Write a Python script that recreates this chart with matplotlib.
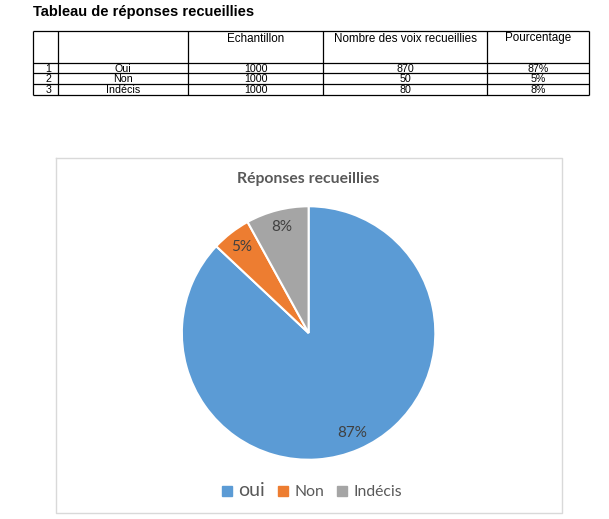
import matplotlib
matplotlib.use("Agg")
import matplotlib.pyplot as plt
from matplotlib.lines import Line2D

# ---- data ----
table_title = "Tableau de réponses recueillies"
headers = ["", "", "Echantillon", "Nombre des voix recueillies", "Pourcentage"]
row_ids = ["1", "2", "3"]
row_names = ["Oui", "Non", "Indécis"]
sample_sizes = [1000, 1000, 1000]
votes = [870, 50, 80]
percent_labels = ["87%", "5%", "8%"]

chart_title = "Réponses recueillies"
legend_labels = ["oui", "Non", "Indécis"]
pie_values = [87, 5, 8]
colors = ["#5B9BD5", "#ED7D31", "#A5A5A5"]

W, H = 609, 519
fig = plt.figure(figsize=(W / 100, H / 100), dpi=100)
fig.patch.set_facecolor("white")

# overlay axes in pixel coordinates for table and frame
ov = fig.add_axes([0, 0, 1, 1])
ov.set_xlim(0, W)
ov.set_ylim(H, 0)
ov.axis("off")

tfont = ["Liberation Sans", "DejaVu Sans"]
ov.text(33, 12, table_title, fontsize=10.5, fontweight="bold", family=tfont,
        ha="left", va="center", color="black")

col_x = [32.5, 58, 188, 323, 487, 589]
row_y = [31, 62.5, 73.2, 83.9, 94.6]
lw = 0.9
for x in col_x:
    ov.plot([x, x], [row_y[0], row_y[-1]], color="black", lw=lw, solid_capstyle="butt")
for y in row_y:
    ov.plot([col_x[0], col_x[-1]], [y, y], color="black", lw=lw, solid_capstyle="butt")

fs = 8.4
for i, h in enumerate(headers):
    if h:
        ov.text((col_x[i] + col_x[i + 1]) / 2, 38.5, h, fontsize=fs, family=tfont,
                ha="center", va="center", color="black")

rfs = 7.7
for r in range(len(row_ids)):
    cells = [row_ids[r], row_names[r], str(sample_sizes[r]), str(votes[r]), percent_labels[r]]
    yc = (row_y[r + 1] + row_y[r + 2]) / 2 + 0.9
    for i, c in enumerate(cells):
        ov.text((col_x[i] + col_x[i + 1]) / 2 + (3 if i == 0 else 0), yc, c, fontsize=rfs,
                family=tfont, ha="center", va="center", color="black")

# chart frame
ov.plot([56, 562, 562, 56, 56], [158, 158, 513, 513, 158], color="#D9D9D9", lw=1)

cfont = ["Lato", "DejaVu Sans"]
ov.text(308.5, 178.5, chart_title, fontsize=11.3, fontweight="bold", family=cfont,
        ha="center", va="center", color="#595959")

# pie
cx, cy, r = 308.6, 333, 128
ax = fig.add_axes([(cx - r) / W, (H - cy - r) / H, 2 * r / W, 2 * r / H])
wedges, texts, autotexts = ax.pie(
    pie_values, colors=colors, startangle=90, counterclock=False,
    autopct=lambda p: f"{p:.0f}%", pctdistance=0.86,
    wedgeprops=dict(edgecolor="white", linewidth=1.5),
    textprops=dict(fontsize=11, color="#404040", family=cfont))
ax.set_xlim(-1.01, 1.01)
ax.set_ylim(-1.01, 1.01)
ax.set_aspect("equal")
ax.axis("off")

handles = [Line2D([], [], marker="s", linestyle="none", markersize=6.5,
                  markerfacecolor=c, markeredgecolor=c) for c in colors]
leg = fig.legend(handles, legend_labels, loc="center", bbox_to_anchor=(312 / W, 1 - 490.5 / H),
                 ncol=3, frameon=False, handlelength=0.6, handletextpad=0.45, columnspacing=0.8,
                 prop=dict(family=cfont, size=11.3), labelcolor="#595959")
leg.get_texts()[0].set_fontsize(14)

fig.savefig("out.png", dpi=100, facecolor="white")
